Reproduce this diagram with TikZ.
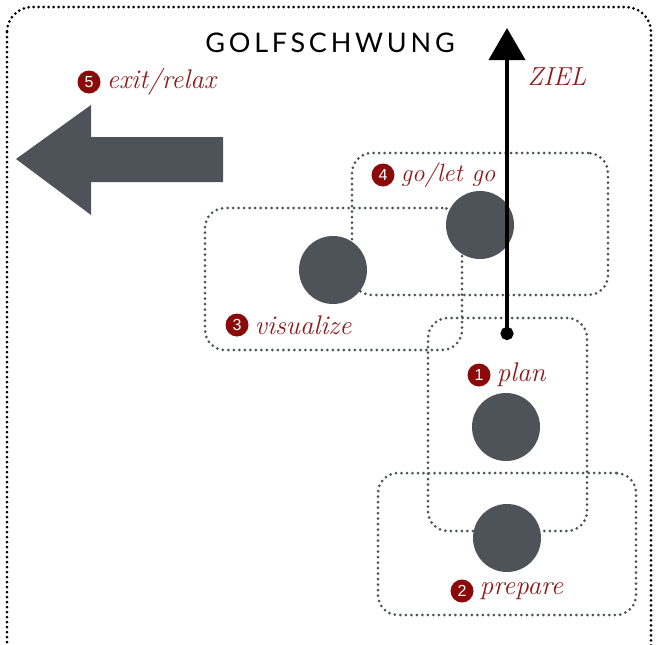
\documentclass[tikz,border=0pt]{standalone}
\usepackage{fontspec}
\usetikzlibrary{positioning, arrows.meta}
\newfontfamily\titlefont[LetterSpace=14]{Lato}
\newfontfamily\badgefont{Liberation Sans}
\definecolor{golfgray}{HTML}{4D5359}
\definecolor{badgered}{HTML}{8A0A0A}
\definecolor{labelred}{HTML}{8E1B1B}
\tikzstyle{frame} = [draw=black, dash pattern=on 0pt off 5pt, line cap=round, line width=3pt, rounded corners=25pt]
\tikzstyle{group} = [draw=golfgray, dash pattern=on 0pt off 5.5pt, line cap=round, line width=3pt, rounded corners=20pt, rectangle]
\tikzstyle{ball} = [circle, fill=golfgray, minimum size=68pt, inner sep=0pt]
\tikzstyle{badge} = [circle, fill=badgered, text=white, font=\badgefont\fontsize{16}{16}\selectfont, minimum size=23pt, inner sep=0pt]
\tikzstyle{phase} = [text=labelred, font=\itshape\fontsize{27}{27}\selectfont, inner sep=0pt]
\tikzstyle{aim} = [line width=4pt, {Circle[length=13pt]}-{Triangle[width=36pt,length=32pt]}]

\begin{document}
\begin{tikzpicture}[x=1pt, y=-1pt] % pixel units, y downwards

    \useasboundingbox (0,0) rectangle (656,645);
    \draw[frame] (7,7) rectangle (651,675);

    \node (title) at (330,43) {\titlefont\fontsize{27}{27}\selectfont GOLFSCHWUNG};

    % groups behind the balls
    \node (g1) [group, minimum width=159pt, minimum height=213pt] at (507.5,424.5) {};
    \node (g2) [group, minimum width=258pt, minimum height=142pt] at (507,544) {};
    \node (g3) [group, minimum width=257pt, minimum height=142pt] at (333.5,279) {};
    \node (g4) [group, minimum width=256pt, minimum height=142pt] at (480,224) {};

    \node (plan) [ball] at (506,427) {};
    \node (prepare) [ball] at (507,538) {};
    \node (visualize) [ball] at (333,270) {};
    \node (go) [ball] at (480,225) {};

    % exit arrow
    \fill[golfgray] (223,137) -- (91,137) -- (91,105) -- (16,159) -- (91,215) -- (91,182) -- (223,182) -- cycle;

    % aim line
    \coordinate (aim start) at (507,340);
    \coordinate (aim end) at (507,28);
    \draw[aim] (aim start) -- (aim end);
    \node (ziel) [phase, font=\itshape\fontsize{26}{26}\selectfont] at (557,77) {ZIEL};

    % labels
    \node (b1) [badge] at (479,375) {1};
    \node (l1) [phase, right=6pt of b1] {plan};
    \node (b2) [badge] at (462,591) {2};
    \node (l2) [phase, right=6pt of b2] {prepare};
    \node (b3) [badge] at (237,325) {3};
    \node (l3) [phase, right=6pt of b3] {visualize};
    \node (b4) [badge] at (383,175) {4};
    \node (l4) [phase, right=6pt of b4, font=\itshape\fontsize{25}{25}\selectfont] {go/let go};
    \node (b5) [badge] at (89,82) {5};
    \node (l5) [phase, right=6pt of b5] {exit/relax};

\end{tikzpicture}
\end{document}
